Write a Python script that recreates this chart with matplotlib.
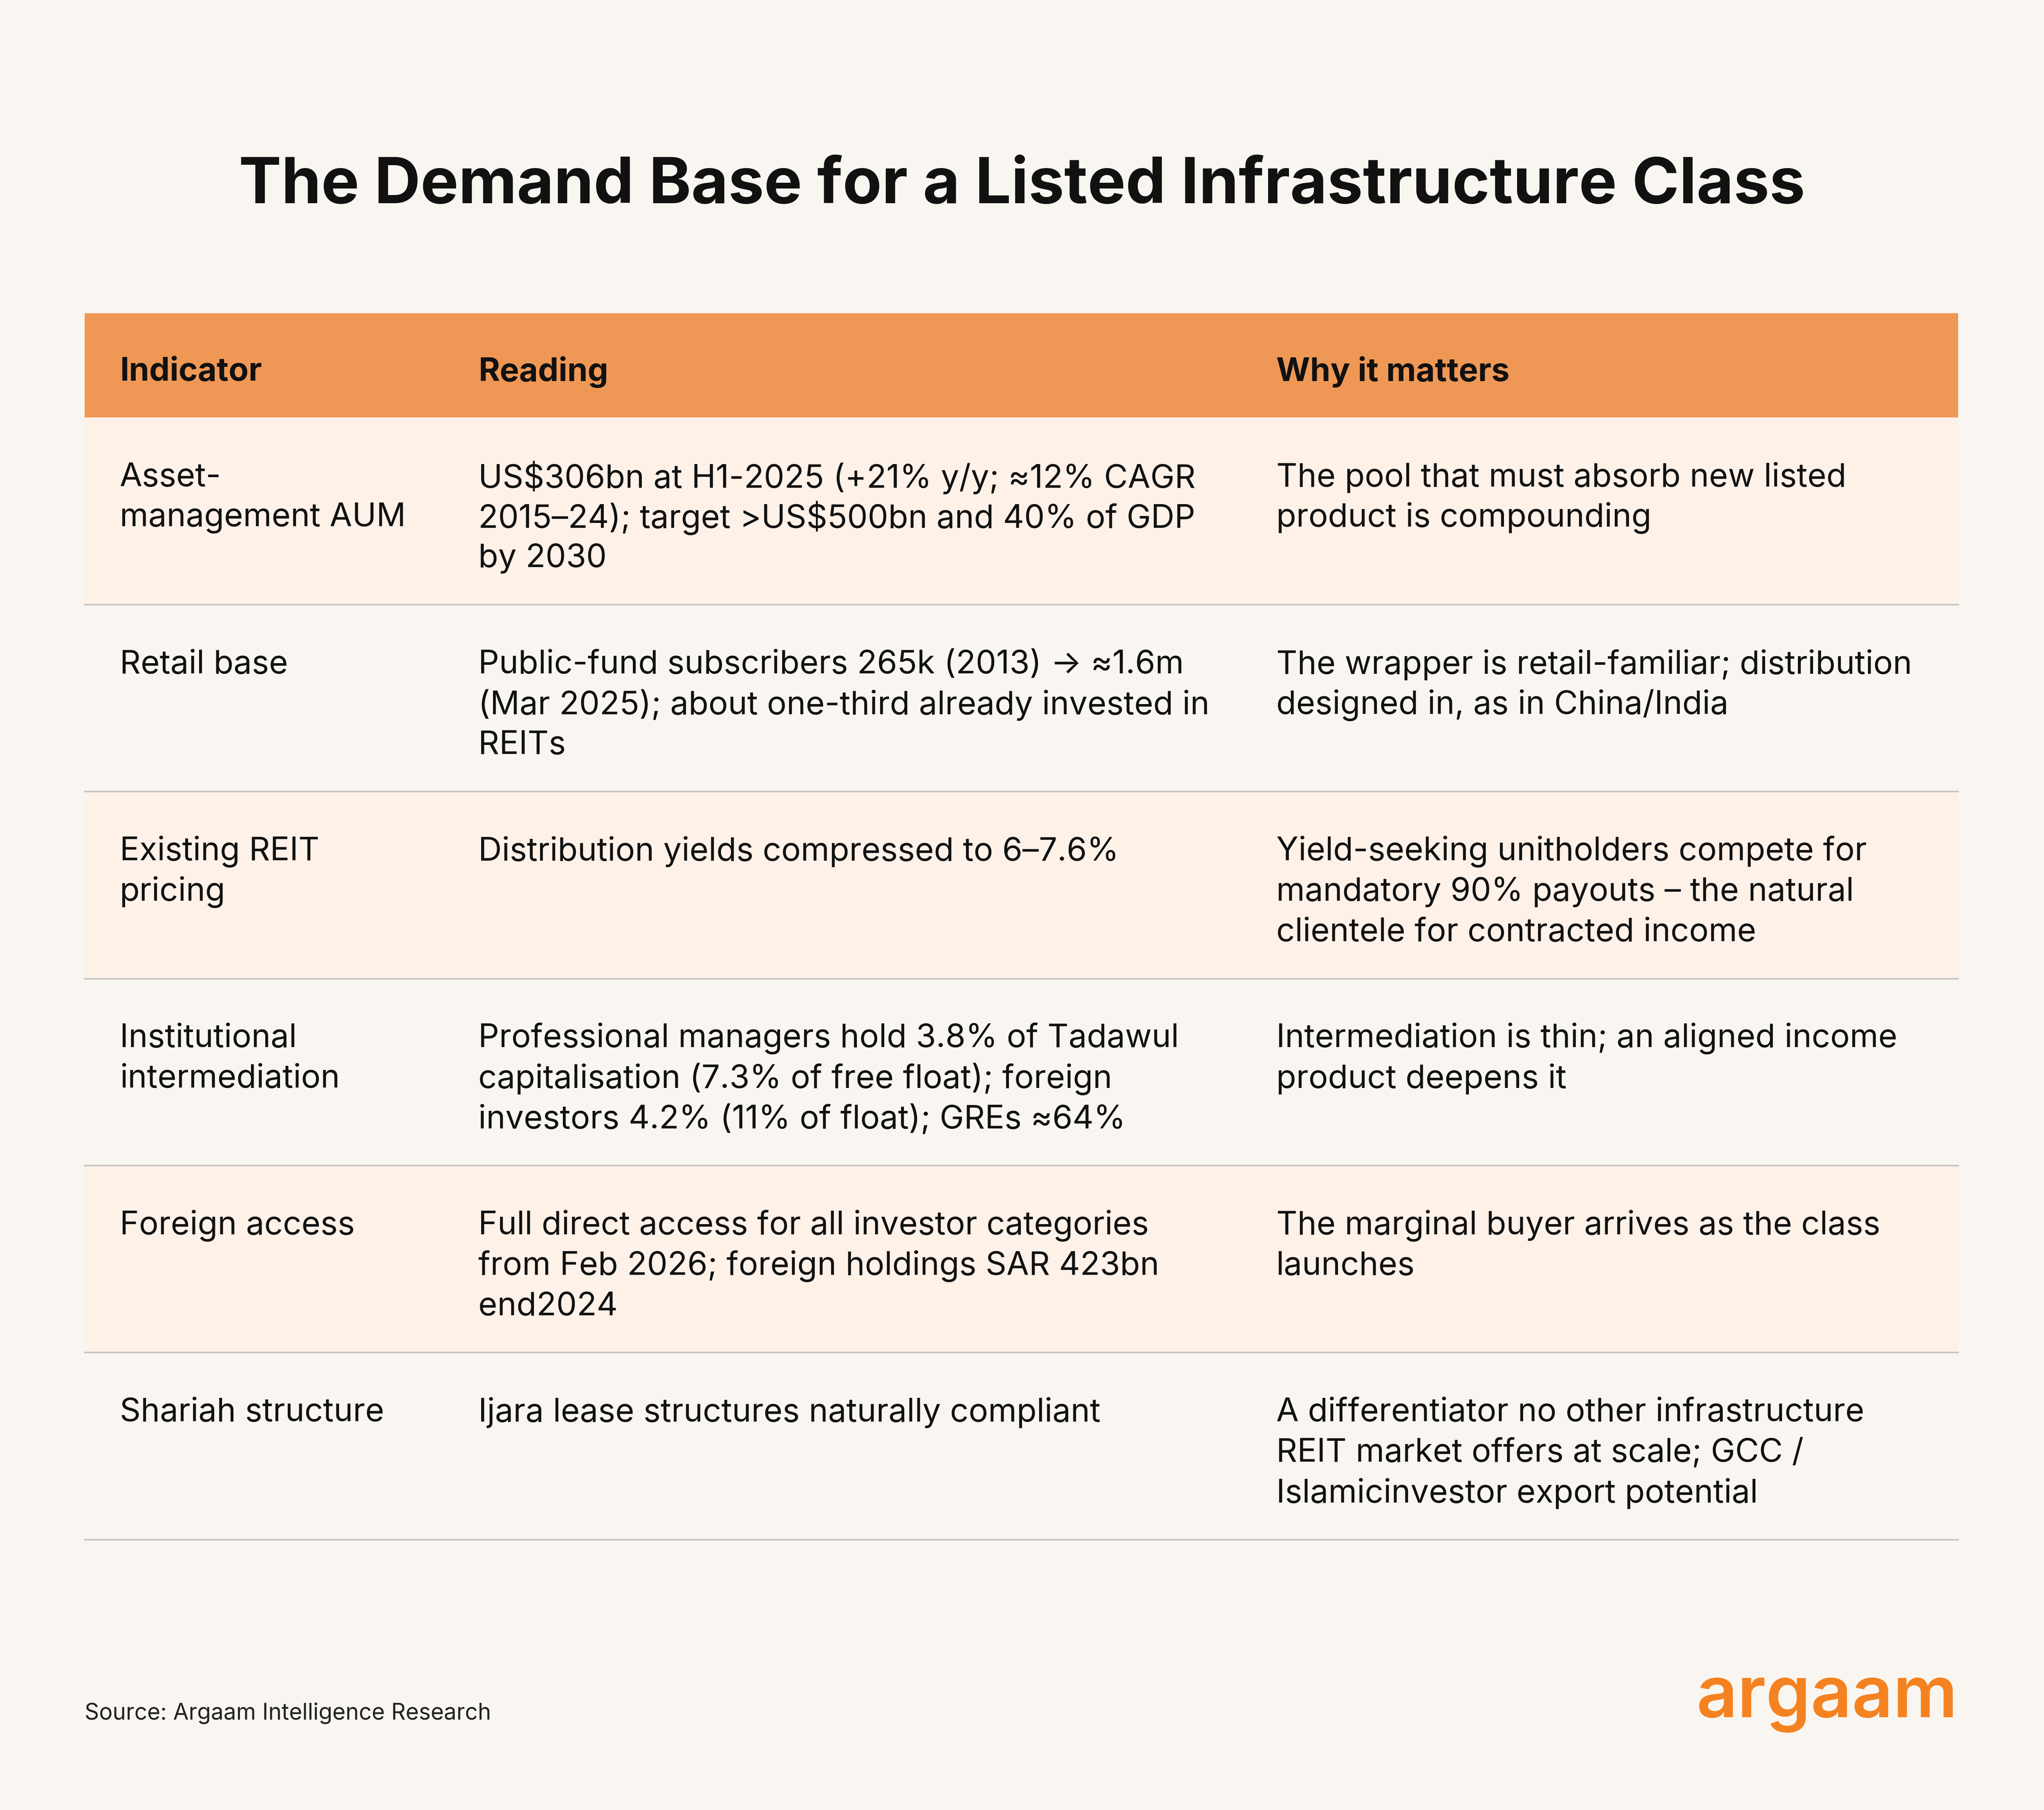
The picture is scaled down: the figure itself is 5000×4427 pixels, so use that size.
import matplotlib
matplotlib.use("Agg")
import matplotlib.pyplot as plt
from matplotlib.patches import Rectangle

plt.rcParams['font.family'] = ['Inter', 'DejaVu Sans']

# table content
title = "The Demand Base for a Listed Infrastructure Class"
headers = ["Indicator", "Reading", "Why it matters"]
indicators = [
    "Asset-\nmanagement AUM",
    "Retail base",
    "Existing REIT\npricing",
    "Institutional\nintermediation",
    "Foreign access",
    "Shariah structure",
]
readings = [
    "US$306bn at H1-2025 (+21% y/y; ≈12% CAGR\n2015–24); target >US$500bn and 40% of GDP\nby 2030",
    "Public-fund subscribers 265k (2013) → ≈1.6m\n(Mar 2025); about one-third already invested in\nREITs",
    "Distribution yields compressed to 6–7.6%",
    "Professional managers hold 3.8% of Tadawul\ncapitalisation (7.3% of free float); foreign\ninvestors 4.2% (11% of float); GREs ≈64%",
    "Full direct access for all investor categories\nfrom Feb 2026; foreign holdings SAR 423bn\nend2024",
    "Ijara lease structures naturally compliant",
]
why = [
    "The pool that must absorb new listed\nproduct is compounding",
    "The wrapper is retail-familiar; distribution\ndesigned in, as in China/India",
    "Yield-seeking unitholders compete for\nmandatory 90% payouts – the natural\nclientele for contracted income",
    "Intermediation is thin; an aligned income\nproduct deepens it",
    "The marginal buyer arrives as the class\nlaunches",
    "A differentiator no other infrastructure\nREIT market offers at scale; GCC /\nIslamicinvestor export potential",
]
source = "Source: Argaam Intelligence Research"

# layout in reference pixel units (1568 wide)
W, H = 1568, 1387
S = 72 / 100 * 5000 / W   # points per layout pixel

bg = "#F9F6F1"
head_col = "#EF9856"
band_col = "#FEF1E8"
line_col = "#C8C4BF"

fig = plt.figure(figsize=(50, 44.27), dpi=100, facecolor=bg)
ax = fig.add_axes([0, 0, 1, 1])
ax.set_xlim(0, W)
ax.set_ylim(H, 0)
ax.axis("off")

left, right = 65, 1502
col_x = [92, 367, 979]
head_top, head_bot = 240, 320
row_h = 143.3
line_h = 31
body_fs = 25 * S

ax.text(W / 2, 143, title, ha="center", va="center", fontsize=49 * S,
        fontweight="bold", color="#111111")

ax.add_patch(Rectangle((left, head_top), right - left, head_bot - head_top,
                       facecolor=head_col, edgecolor="none"))
for x, h in zip(col_x, headers):
    ax.text(x, 285, h, ha="left", va="center", fontsize=body_fs,
            fontweight="bold", color="#111111")

for i, cells in enumerate(zip(indicators, readings, why)):
    top = head_bot + i * row_h
    if i % 2 == 0:
        ax.add_patch(Rectangle((left, top), right - left, row_h,
                               facecolor=band_col, edgecolor="none"))
    ax.plot([left, right], [top + row_h, top + row_h], color=line_col, lw=1.2 * S)
    for x, cell in zip(col_x, cells):
        for j, line in enumerate(cell.split("\n")):
            ax.text(x, top + 46 + j * line_h, line, ha="left", va="center",
                    fontsize=body_fs, color="#111111")

ax.text(left, 1313, source, ha="left", va="center", fontsize=17.3 * S,
        color="#222222")
ax.text(right, 1302, "argaam", ha="right", va="center", fontsize=55 * S,
        fontweight="semibold", color="#F58220")

fig.savefig("out.png", dpi=100, facecolor=bg)
